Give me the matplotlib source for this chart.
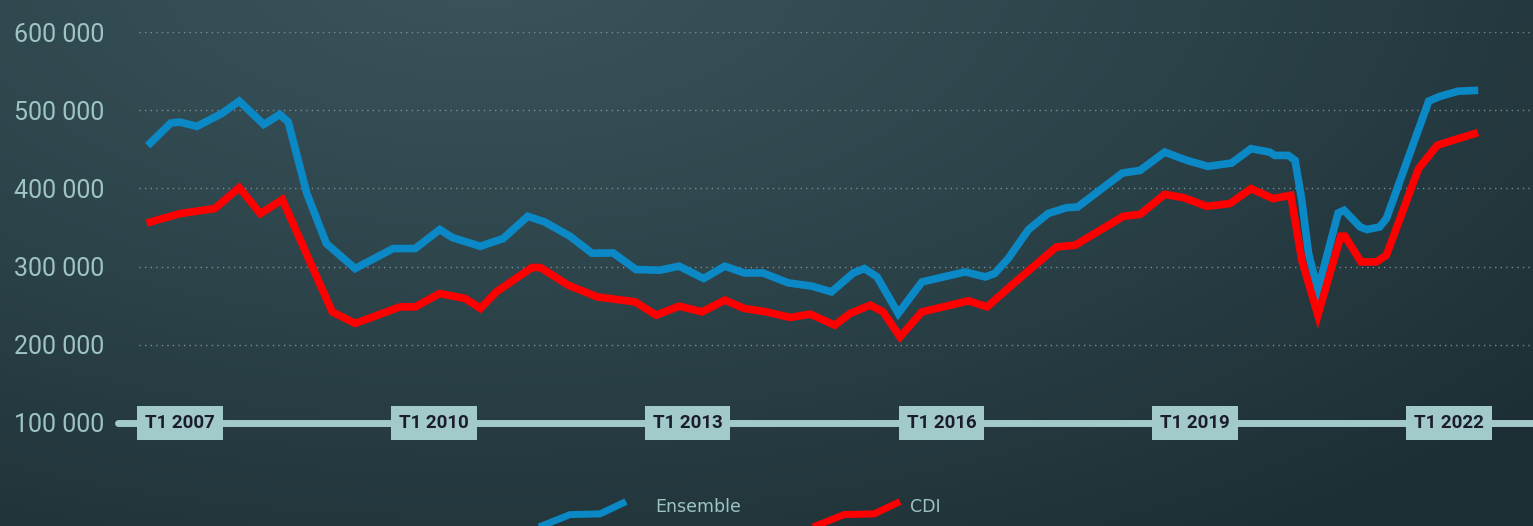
import numpy as np
import matplotlib
matplotlib.use("Agg")
import matplotlib.pyplot as plt
from matplotlib import font_manager
from matplotlib.lines import Line2D
from matplotlib.colors import LinearSegmentedColormap

# --- data (annees en decimal) ---
annees_ens = [2006.65, 2006.89, 2007.00, 2007.20, 2007.49, 2007.70, 2007.99, 2008.18, 2008.28,
              2008.50, 2008.73, 2009.07, 2009.52, 2009.78, 2010.07, 2010.22, 2010.55, 2010.82,
              2011.11, 2011.31, 2011.61, 2011.87, 2012.12, 2012.39, 2012.67, 2012.90, 2013.19,
              2013.44, 2013.67, 2013.89, 2014.19, 2014.47, 2014.70, 2014.96, 2015.09, 2015.24,
              2015.49, 2015.77, 2016.28, 2016.52, 2016.63, 2016.79, 2017.03, 2017.26, 2017.48,
              2017.61, 2018.14, 2018.35, 2018.64, 2018.90, 2019.15, 2019.43, 2019.66, 2019.88,
              2019.94, 2020.10, 2020.18, 2020.26, 2020.34, 2020.45, 2020.69, 2020.76, 2020.95,
              2021.03, 2021.18, 2021.26, 2021.76, 2021.89, 2022.11, 2022.30]
ensemble = [458000, 483500, 484800, 479300, 495500, 511600, 481800, 494600, 484800,
            393300, 329500, 297500, 323100, 323100, 347400, 337100, 326000, 335900,
            364300, 357100, 338800, 317100, 317500, 296300, 295400, 300500, 284800,
            300500, 291900, 291900, 279200, 275000, 267700, 291900, 297500, 286800,
            240100, 280400, 293200, 286800, 291200, 310300, 347400, 367800, 375400,
            376200, 419600, 423100, 446400, 435900, 428200, 432400, 450800, 446400,
            442200, 442200, 435900, 384800, 316700, 270000, 368600, 372000, 350700,
            347400, 350700, 361400, 511600, 517600, 524300, 525200]

annees_cdi = [2006.65, 2007.00, 2007.41, 2007.70, 2007.95, 2008.21, 2008.80, 2009.07, 2009.60,
              2009.78, 2010.07, 2010.37, 2010.55, 2010.74, 2011.16, 2011.26, 2011.59, 2011.93,
              2012.38, 2012.63, 2012.90, 2013.17, 2013.44, 2013.67, 2013.93, 2014.21, 2014.45,
              2014.74, 2014.92, 2015.16, 2015.31, 2015.51, 2015.77, 2016.32, 2016.54, 2016.83,
              2017.36, 2017.58, 2018.15, 2018.35, 2018.64, 2018.86, 2019.14, 2019.41, 2019.66,
              2019.92, 2020.13, 2020.26, 2020.45, 2020.72, 2020.77, 2020.96, 2021.14, 2021.26,
              2021.64, 2021.86, 2022.04, 2022.30]
cdi = [357100, 367800, 374200, 401000, 367800, 385700, 242100, 227300, 248500,
       248500, 265600, 259200, 246500, 267700, 298800, 298800, 276200, 261300,
       254900, 237900, 249400, 242100, 257100, 246500, 242100, 235000, 239200,
       225100, 240100, 250700, 242100, 210200, 242100, 256200, 248500, 276200,
       325100, 327300, 364300, 366900, 392400, 388200, 377100, 380600, 399700,
       386900, 391200, 308200, 237900, 338800, 338800, 306000, 306000, 314500,
       425300, 455000, 461400, 469900]

ticks_x = [2007, 2010, 2013, 2016, 2019, 2022]
labels_x = ["T1 2007", "T1 2010", "T1 2013", "T1 2016", "T1 2019", "T1 2022"]
ticks_y = [100000, 200000, 300000, 400000, 500000, 600000]
labels_y = ["100 000", "200 000", "300 000", "400 000", "500 000", "600 000"]

BLEU = "#0a89c6"
ROUGE = "#ff0000"
CLAIR = "#a3cacb"
TEXTE = "#9ec4c4"

names = {f.name for f in font_manager.fontManager.ttflist}
narrow = "Liberation Sans Narrow" if "Liberation Sans Narrow" in names else "Roboto"

W, H = 1533, 526
fig = plt.figure(figsize=(W / 100, H / 100), dpi=100)

# fond en degrade
bg = fig.add_axes([0, 0, 1, 1], zorder=-10)
yy, xx = np.mgrid[0:H, 0:W]
d = np.sqrt(((xx - 480) / 1400.0) ** 2 + ((yy + 40) / 700.0) ** 2)
d = np.clip(d, 0, 1)
cmap = LinearSegmentedColormap.from_list("fond", ["#3b545b", "#2c434a", "#1d2f34"])
bg.imshow(d, cmap=cmap, aspect="auto", extent=[0, W, H, 0], vmin=0, vmax=1)
bg.axis("off")

x0, x1 = 118, 1533
ax = fig.add_axes([x0 / W, (H - 423) / H, (x1 - x0) / W, 391 / H])
ax.patch.set_alpha(0)
px_an = 84.6
ax.set_xlim(2007 + (x0 - 180) / px_an, 2007 + (x1 - 180) / px_an)
ax.set_ylim(100000, 600000)

for s in ax.spines.values():
    s.set_visible(False)

for v in ticks_y[1:]:
    ax.axhline(v, xmin=(139 - x0) / (x1 - x0), xmax=1, color="#8d9fa1", lw=1.0,
               ls=(0, (1, 3)), alpha=0.8, zorder=1)

ax.axhline(100000, xmin=0, xmax=1, color=CLAIR, lw=5, solid_capstyle="round", zorder=2,
           clip_on=False)

ax.plot(annees_ens, ensemble, color=BLEU, lw=5.5, solid_joinstyle="miter", zorder=4)
ax.plot(annees_cdi, cdi, color=ROUGE, lw=5.5, solid_joinstyle="miter", zorder=5)

ax.set_yticks(ticks_y)
ax.set_yticklabels(labels_y, fontfamily=narrow, fontsize=18, color=TEXTE)
for lab in ax.get_yticklabels():
    lab.set_verticalalignment("center_baseline")
ax.tick_params(axis="y", length=0, pad=10)
ax.set_xticks([])

for t, lab in zip(ticks_x, labels_x):
    ax.text(t, 100000, lab, ha="center", va="center", fontfamily=narrow, fontweight="bold",
            fontsize=13.5, color="#1b1d2e", zorder=6,
            bbox=dict(boxstyle="square,pad=0.42", fc=CLAIR, ec="none"))

# legende
def icone(x, couleur):
    xs = np.array([x, x + 31, x + 61, x + 87]) / W
    ys = (H - np.array([527, 514.6, 513.9, 501.6])) / H
    fig.add_artist(Line2D(xs, ys, color=couleur, lw=5, solid_capstyle="butt",
                          solid_joinstyle="miter"))

icone(539, BLEU)
fig.text(655 / W, (H - 507) / H, "Ensemble", fontsize=12.5, color=TEXTE, va="center", ha="left")
icone(813, ROUGE)
fig.text(910 / W, (H - 507) / H, "CDI", fontsize=12.5, color=TEXTE, va="center", ha="left")

fig.savefig("out.png", dpi=100)
